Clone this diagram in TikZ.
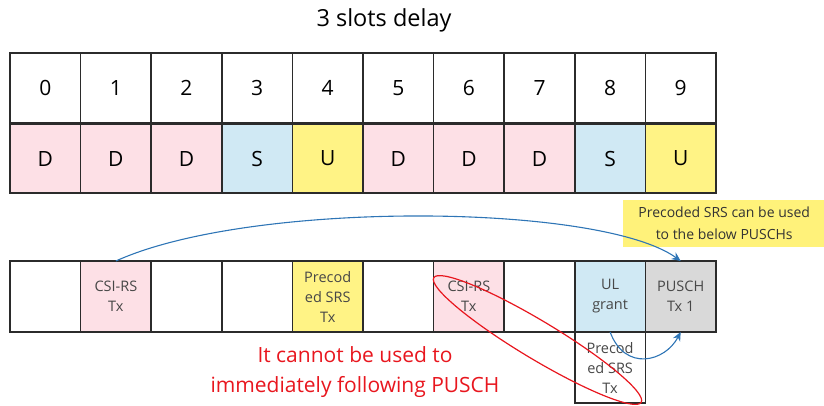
\documentclass[tikz,border=0pt]{standalone}
\usepackage{fontspec}
\setmainfont{Open Sans}
\usetikzlibrary{arrows.meta}
\definecolor{dpink}{HTML}{FDE0E6}
\definecolor{sblue}{HTML}{D0E9F4}
\definecolor{uyel}{HTML}{FFF385}
\definecolor{pgray}{HTML}{D9D9D9}
\definecolor{arrblue}{HTML}{2E75B6}
\definecolor{callyel}{HTML}{FFF27A}
\definecolor{redl}{HTML}{E8161E}
\definecolor{gridline}{HTML}{2B2B2B}
\begin{document}
\begin{tikzpicture}[x=1pt,y=-1pt,
  cell/.style={minimum width=70.6pt, minimum height=70pt,
    inner sep=0pt, outer sep=0pt, anchor=north west, font=\fontsize{21}{24}\selectfont},
  scell/.style={cell, minimum height=71pt, font=\fontsize{14.5}{20}\selectfont, align=center, text=black!72},
  border/.style={draw=gridline, line width=1.6pt},
  conn/.style={draw=arrblue, line width=1.1pt, -{Stealth[length=9pt,width=8pt]}},
]
\useasboundingbox (0,0) rectangle (824,405);
\node[font=\fontsize{23.5}{26}\selectfont] (title) at (384,20) {3 slots delay};
% top grid
\foreach \i/\l/\c in {0/D/dpink,1/D/dpink,2/D/dpink,3/S/sblue,4/U/uyel,5/D/dpink,6/D/dpink,7/D/dpink,8/S/sblue,9/U/uyel}{
  \node[cell] (n\i) at ({10+70.6*\i},53) {\i};
  \node[cell, fill=\c, minimum height=69pt] (t\i) at ({10+70.6*\i},124) {\l};
}
% bottom row
\foreach \i/\c/\t in {0/white/{},1/dpink/{CSI-RS\\Tx},2/white/{},3/white/{},4/uyel/{Precod\\ed SRS\\Tx},5/white/{},6/dpink/{CSI-RS\\Tx},7/white/{},8/sblue/{UL\\grant},9/pgray/{PUSCH\\Tx 1}}{
  \node[scell, fill=\c] (b\i) at ({10+70.6*\i},261) {\t};
}
\node[scell] (e8) at ({10+70.6*8},332) {Precod\\ed SRS\\Tx};
% borders
\foreach \i in {0,...,9}{
  \draw[border] (n\i.north west) rectangle (n\i.south east);
  \draw[border] (t\i.north west) rectangle (t\i.south east);
  \draw[border] (b\i.north west) rectangle (b\i.south east);
}
\draw[border] (e8.north west) rectangle (e8.south east);
% callout
\node[fill=callyel, inner sep=0pt, minimum width=210pt, minimum height=47pt, anchor=north west,
  align=center, font=\fontsize{14}{22}\selectfont, text=black!80] (call) at (623,200)
  {\hspace*{-8pt}Precoded SRS can be used\\\hspace*{-8pt}to the below PUSCHs};
% arrows
\draw[conn] (b1.north) .. controls (250,200) and (600,203) .. (b9.north);
\draw[conn] (b8.south) .. controls (625,372) and (665,362) .. (b9.south);
% red text
\node[text=redl, align=center, font=\fontsize{21}{30}\selectfont] (note) at (355,372)
  {It cannot be used to\\immediately following PUSCH};
% ellipse
\draw[redl, line width=1.2pt, rotate around={-31:(537.5,340)}] (537.5,340) ellipse [x radius=121, y radius=19];
\end{tikzpicture}
\end{document}
